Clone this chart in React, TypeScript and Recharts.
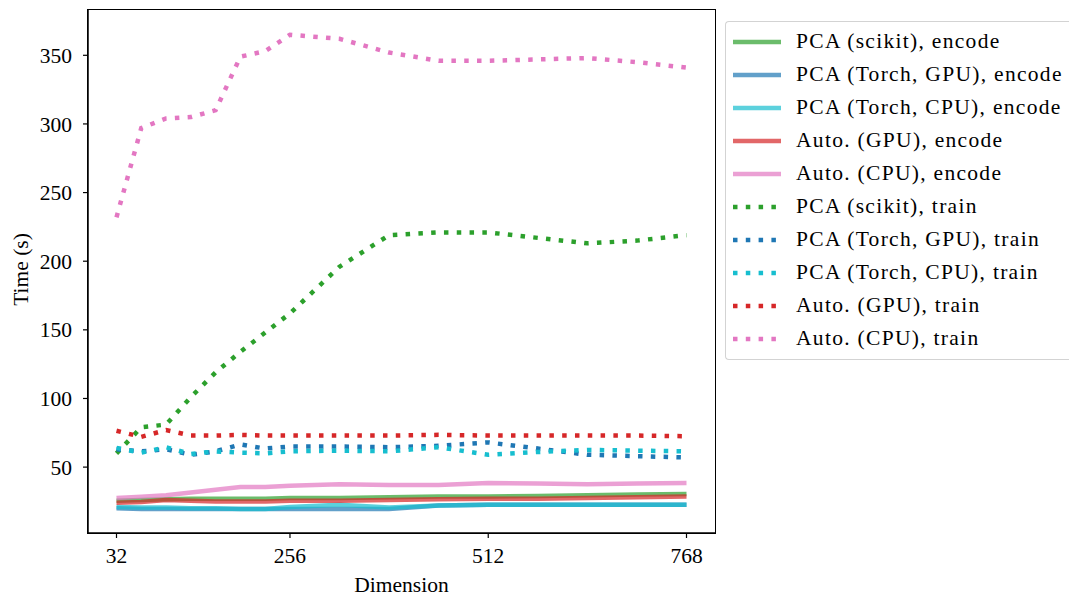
import { LineChart, Line, XAxis, YAxis, Legend, Label } from 'recharts'

const dims = [32, 64, 96, 128, 160, 192, 224, 256, 320, 384, 448, 512, 576, 640, 704, 768]

const pcaScikitEncode = [25.5, 26, 26.5, 27, 27, 27, 27, 27.5, 27.5, 28, 28.5, 28.5, 29, 29.5, 30, 30.5]
const pcaTorchGpuEncode = [20, 19.5, 19.5, 19.5, 19.5, 19.5, 19.5, 19.5, 19.5, 19.5, 22, 22.5, 22.5, 22.5, 22.5, 22.5]
const pcaTorchCpuEncode = [21, 20.5, 20.5, 20, 20, 19.5, 19.5, 21, 22.5, 20.5, 22, 22.5, 22.5, 22.5, 22.5, 22.5]
const autoGpuEncode = [24, 24.5, 26, 25.5, 25, 25, 25, 25.5, 25.5, 26, 26.5, 27, 27, 27.5, 28, 28.5]
const autoCpuEncode = [27.5, 28.5, 29.5, 31.5, 33.5, 35.5, 35.5, 36.5, 37.5, 37, 37, 38.5, 38, 37.5, 38, 38.5]

const pcaScikitTrain = [60, 79, 81, 101, 119, 134, 148, 162, 196, 219, 221, 221, 217, 213, 215, 219]
const pcaTorchGpuTrain = [63, 61.5, 63, 59, 61.5, 66.5, 63.5, 65, 65, 64.5, 65.5, 68, 63.5, 59, 58, 57]
const pcaTorchCpuTrain = [64, 60.5, 64.5, 59.5, 61.5, 60.5, 60, 61.5, 62, 61.5, 64.5, 59, 61, 62.5, 62, 61.5]
const autoGpuTrain = [76.5, 72, 77, 73, 73, 73.5, 73, 73, 73, 73, 73.5, 73, 73, 73, 73, 72.5]
const autoCpuTrain = [232, 297, 304, 305, 310, 349, 353, 365, 362, 352, 346, 346, 347, 348, 345, 341]

const xTicks = [32, 256, 512, 768]
const yTicks = [50, 100, 150, 200, 250, 300, 350]

const series = [
  { key: 'pcaScikitEncode', name: 'PCA (scikit), encode', color: '#2ca02c', values: pcaScikitEncode, train: false },
  { key: 'pcaTorchGpuEncode', name: 'PCA (Torch, GPU), encode', color: '#1f77b4', values: pcaTorchGpuEncode, train: false },
  { key: 'pcaTorchCpuEncode', name: 'PCA (Torch, CPU), encode', color: '#17becf', values: pcaTorchCpuEncode, train: false },
  { key: 'autoGpuEncode', name: 'Auto. (GPU), encode', color: '#d62728', values: autoGpuEncode, train: false },
  { key: 'autoCpuEncode', name: 'Auto. (CPU), encode', color: '#e377c2', values: autoCpuEncode, train: false },
  { key: 'pcaScikitTrain', name: 'PCA (scikit), train', color: '#2ca02c', values: pcaScikitTrain, train: true },
  { key: 'pcaTorchGpuTrain', name: 'PCA (Torch, GPU), train', color: '#1f77b4', values: pcaTorchGpuTrain, train: true },
  { key: 'pcaTorchCpuTrain', name: 'PCA (Torch, CPU), train', color: '#17becf', values: pcaTorchCpuTrain, train: true },
  { key: 'autoGpuTrain', name: 'Auto. (GPU), train', color: '#d62728', values: autoGpuTrain, train: true },
  { key: 'autoCpuTrain', name: 'Auto. (CPU), train', color: '#e377c2', values: autoCpuTrain, train: true },
]

const data = dims.map((d, i) => {
  const row: Record<string, number> = { dim: d }
  series.forEach((s) => {
    row[s.key] = s.values[i]
  })
  return row
})

const FONT = 'Liberation Serif, DejaVu Serif, Times New Roman, serif'
const DASH = '4.5 8.3'

// legend box runs off the right edge of the figure, so no right border
function LegendBox() {
  return (
    <div
      style={{
        border: '1px solid #d3d3d3',
        borderRight: 'none',
        borderRadius: '4px 0 0 4px',
        background: 'rgba(255,255,255,0.8)',
        padding: '3px 0 4px 7px',
        width: 337,
        fontFamily: FONT,
        fontSize: 21.5,
        letterSpacing: 1.3,
        color: '#000',
      }}
    >
      {series.map((s) => (
        <div key={s.key} style={{ display: 'flex', alignItems: 'center', height: 33 }}>
          <svg width={48} height={10} style={{ marginRight: 15, flexShrink: 0 }}>
            <line
              x1={0}
              x2={48}
              y1={5}
              y2={5}
              stroke={s.color}
              strokeWidth={4.5}
              strokeOpacity={s.train ? 1 : 0.7}
              strokeDasharray={s.train ? DASH : undefined}
            />
          </svg>
          <span style={{ whiteSpace: 'nowrap' }}>{s.name}</span>
        </div>
      ))}
    </div>
  )
}

export default function App() {
  const tickStyle = { fontFamily: FONT, fontSize: 21.5, fill: '#000' }
  return (
    <div style={{ position: 'absolute', left: 0, top: 0, width: 1069, height: 597, overflow: 'hidden', background: '#fff' }}>
      <LineChart width={1069} height={597} data={data} margin={{ top: 10, right: 354, bottom: 0, left: 0 }}>
        <XAxis
          dataKey="dim"
          type="number"
          domain={[-4.8, 804.8]}
          ticks={xTicks}
          height={64}
          tickSize={5}
          tickMargin={10}
          tick={tickStyle}
          axisLine={{ stroke: '#000', strokeWidth: 1.5 }}
          tickLine={{ stroke: '#000', strokeWidth: 1.2 }}
          allowDataOverflow
        >
          <Label
            content={(props: any) => {
              const vb = props.viewBox
              return (
                <text x={vb.x + vb.width / 2} y={592} textAnchor="middle" fontFamily={FONT} fontSize={21.5} fill="#000">
                  Dimension
                </text>
              )
            }}
          />
        </XAxis>
        <YAxis
          type="number"
          domain={[2, 383]}
          ticks={yTicks}
          width={88}
          tickSize={5}
          tickMargin={11}
          tick={tickStyle}
          axisLine={{ stroke: '#000', strokeWidth: 1.5 }}
          tickLine={{ stroke: '#000', strokeWidth: 1.2 }}
          allowDataOverflow
        >
          <Label
            content={(props: any) => {
              const vb = props.viewBox
              const cy = vb.y + vb.height / 2 - 2
              return (
                <text
                  x={28}
                  y={cy}
                  transform={`rotate(-90, 28, ${cy})`}
                  textAnchor="middle"
                  fontFamily={FONT}
                  fontSize={21.5}
                  fill="#000"
                >
                  Time (s)
                </text>
              )
            }}
          />
        </YAxis>
        {series.map((s) => (
          <Line
            key={s.key}
            dataKey={s.key}
            name={s.name}
            type="linear"
            stroke={s.color}
            strokeWidth={4.5}
            strokeOpacity={s.train ? 1 : 0.7}
            strokeDasharray={s.train ? DASH : undefined}
            dot={false}
            activeDot={false}
            isAnimationActive={false}
          />
        ))}
        <Legend
          layout="vertical"
          align="center"
          verticalAlign="middle"
          content={() => <LegendBox />}
          wrapperStyle={{ left: 725, top: 21, width: 344 }}
        />
      </LineChart>
      {/* matplotlib-style frame around the plot area */}
      <div
        style={{
          position: 'absolute',
          left: 87.25,
          top: 9.25,
          width: 627,
          height: 523,
          border: '1.5px solid #000',
          pointerEvents: 'none',
        }}
      />
    </div>
  )
}
